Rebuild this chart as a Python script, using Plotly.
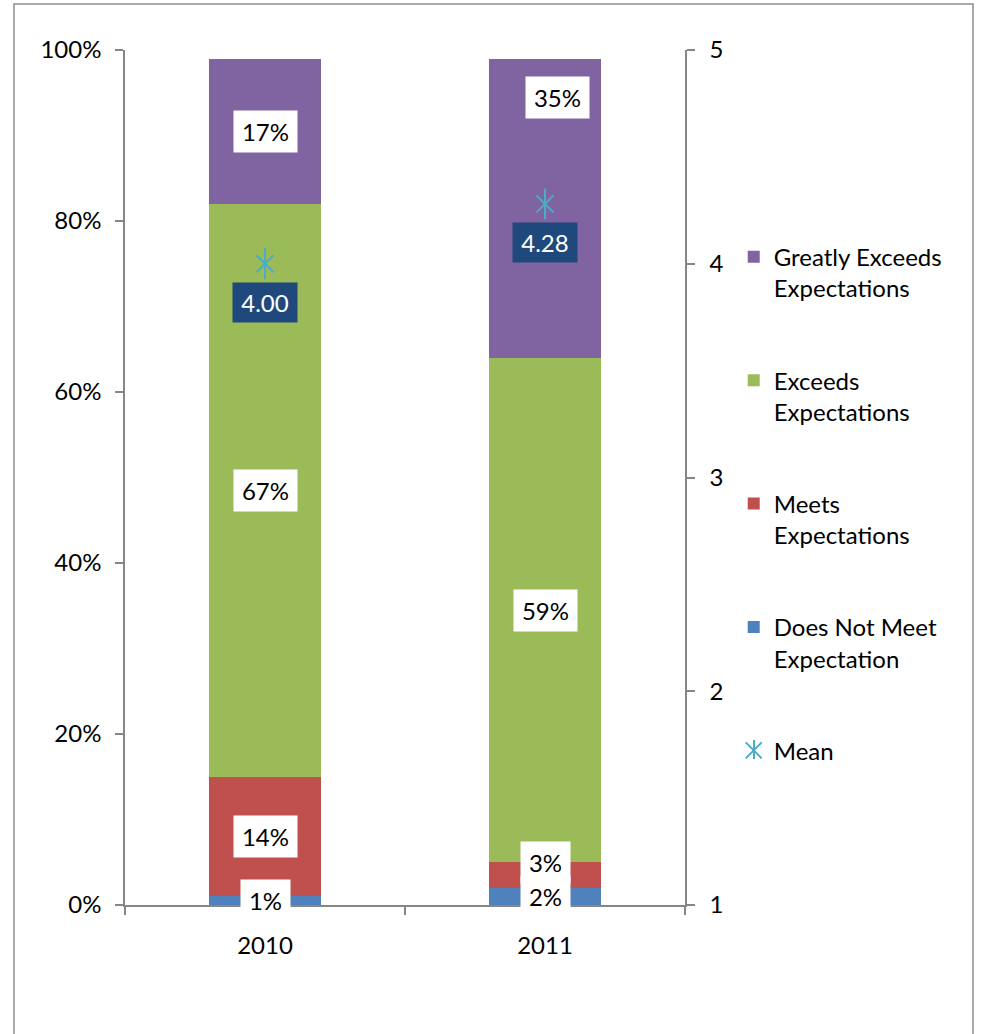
import plotly.graph_objects as go

# Rating distribution per survey year (percent of respondents)
years = ["2010", "2011"]
does_not_meet = [1, 2]
meets = [14, 3]
exceeds = [67, 59]
greatly_exceeds = [17, 35]

# Mean rating on the 1-5 scale
mean_score = [4.00, 4.28]

pct_ticks = [0, 20, 40, 60, 80, 100]
score_ticks = [1, 2, 3, 4, 5]

series = [
    ("Does Not Meet<br>Expectation", does_not_meet, "#4F81BD"),
    ("Meets<br>Expectations", meets, "#C0504D"),
    ("Exceeds<br>Expectations", exceeds, "#9BBB59"),
    ("Greatly Exceeds<br>Expectations", greatly_exceeds, "#8064A2"),
]

FONT = "Lato"
FS = 24
GRAY = "#868686"
MEAN_COLOR = "#4BACC6"

# Hand nudges (px) for labels that would otherwise collide
label_nudge = {
    (1, 3): (12, 111),
    (1, 1): (0, 13),
}

fig = go.Figure()

n_series = len(series)
for k, (name, vals, color) in enumerate(series):
    fig.add_trace(go.Bar(
        x=years, y=vals, name=name,
        marker=dict(color=color, line=dict(width=0)),
        legendgroup=f"g{k}", legendrank=n_series - k,
        hoverinfo="skip",
    ))

# Mean marker: an "X" with a vertical stroke through it
fig.add_trace(go.Scatter(
    x=years, y=mean_score, yaxis="y2", mode="markers", name="Mean",
    marker=dict(symbol="x-thin-open", size=17, color=MEAN_COLOR,
                line=dict(width=2, color=MEAN_COLOR)),
    legendgroup="mean", legendrank=10, hoverinfo="skip",
))
fig.add_trace(go.Scatter(
    x=years, y=mean_score, yaxis="y2", mode="markers", showlegend=False,
    marker=dict(symbol="line-ns-open", size=22, color=MEAN_COLOR,
                line=dict(width=2, color=MEAN_COLOR)),
    legendgroup="mean", hoverinfo="skip",
))

annotations = []
# Percentage labels centred on each stacked segment
# (category axes take the category index for annotation positions)
for i, yr in enumerate(years):
    base = 0
    for k, (name, vals, color) in enumerate(series):
        v = vals[i]
        dx, dy = label_nudge.get((i, k), (0, 0))
        txt = f"{v}%"
        annotations.append(dict(
            x=i, y=base + v / 2, xref="x", yref="y", text=txt,
            showarrow=False, bgcolor="white", borderpad=0,
            width=14 * len(txt) + 21, height=41,
            font=dict(family=FONT, size=FS, color="black"),
            xshift=dx, yshift=dy,
        ))
        base += v

# Mean value labels just below the markers
for i, yr in enumerate(years):
    annotations.append(dict(
        x=i, y=mean_score[i], xref="x", yref="y2", text=f"{mean_score[i]:.2f}",
        showarrow=False, bgcolor="#1F497D", borderpad=0, width=64, height=39,
        font=dict(family=FONT, size=FS, color="white"),
        yshift=-39,
    ))

# Chart frame plus the vertical stroke that completes the legend's mean symbol
shapes = [
    dict(
        type="rect", xref="paper", yref="paper",
        x0=(14 - 125) / 560, x1=(973 - 125) / 560,
        y0=(905 - 1045) / 855, y1=(905 - 4) / 855,
        line=dict(color="#8C8C8C", width=1.5), fillcolor="rgba(0,0,0,0)", layer="below",
    ),
    dict(
        type="line", xref="paper", yref="paper",
        x0=(754 - 125) / 560, x1=(754 - 125) / 560,
        y0=(905 - 740) / 855, y1=(905 - 759) / 855,
        line=dict(color=MEAN_COLOR, width=2),
    ),
]

fig.update_layout(
    width=981, height=1034,
    margin=dict(l=125, r=296, t=50, b=129),
    paper_bgcolor="white", plot_bgcolor="white",
    barmode="stack", bargap=0.6,
    font=dict(family=FONT, size=FS, color="black"),
    showlegend=True,
    legend=dict(
        x=1.087, y=0.784, xanchor="left", yanchor="top",
        traceorder="grouped", tracegroupgap=58, valign="top",
        font=dict(family=FONT, size=FS, color="black"),
        bgcolor="rgba(0,0,0,0)",
    ),
    xaxis=dict(
        type="category", range=[-0.5, 1.5], showgrid=False,
        showline=True, linecolor=GRAY, linewidth=1.5,
        ticks="outside", tickson="boundaries", ticklen=8, tickcolor=GRAY, tickwidth=1.5,
        ticklabelstandoff=18, zeroline=False,
    ),
    yaxis=dict(
        range=[0, 100], tickvals=pct_ticks, ticktext=[f"{t}%" for t in pct_ticks],
        showgrid=False, zeroline=False, showline=True, linecolor=GRAY, linewidth=1.5,
        ticks="outside", ticklen=8, tickcolor=GRAY, tickwidth=1.5, ticklabelstandoff=9,
    ),
    yaxis2=dict(
        range=[1, 5], tickvals=score_ticks, overlaying="y", side="right",
        showgrid=False, zeroline=False, showline=True, linecolor=GRAY, linewidth=1.5,
        ticks="outside", ticklen=8, tickcolor=GRAY, tickwidth=1.5, ticklabelstandoff=10,
    ),
    annotations=annotations,
    shapes=shapes,
)

fig.write_html("out.html")
